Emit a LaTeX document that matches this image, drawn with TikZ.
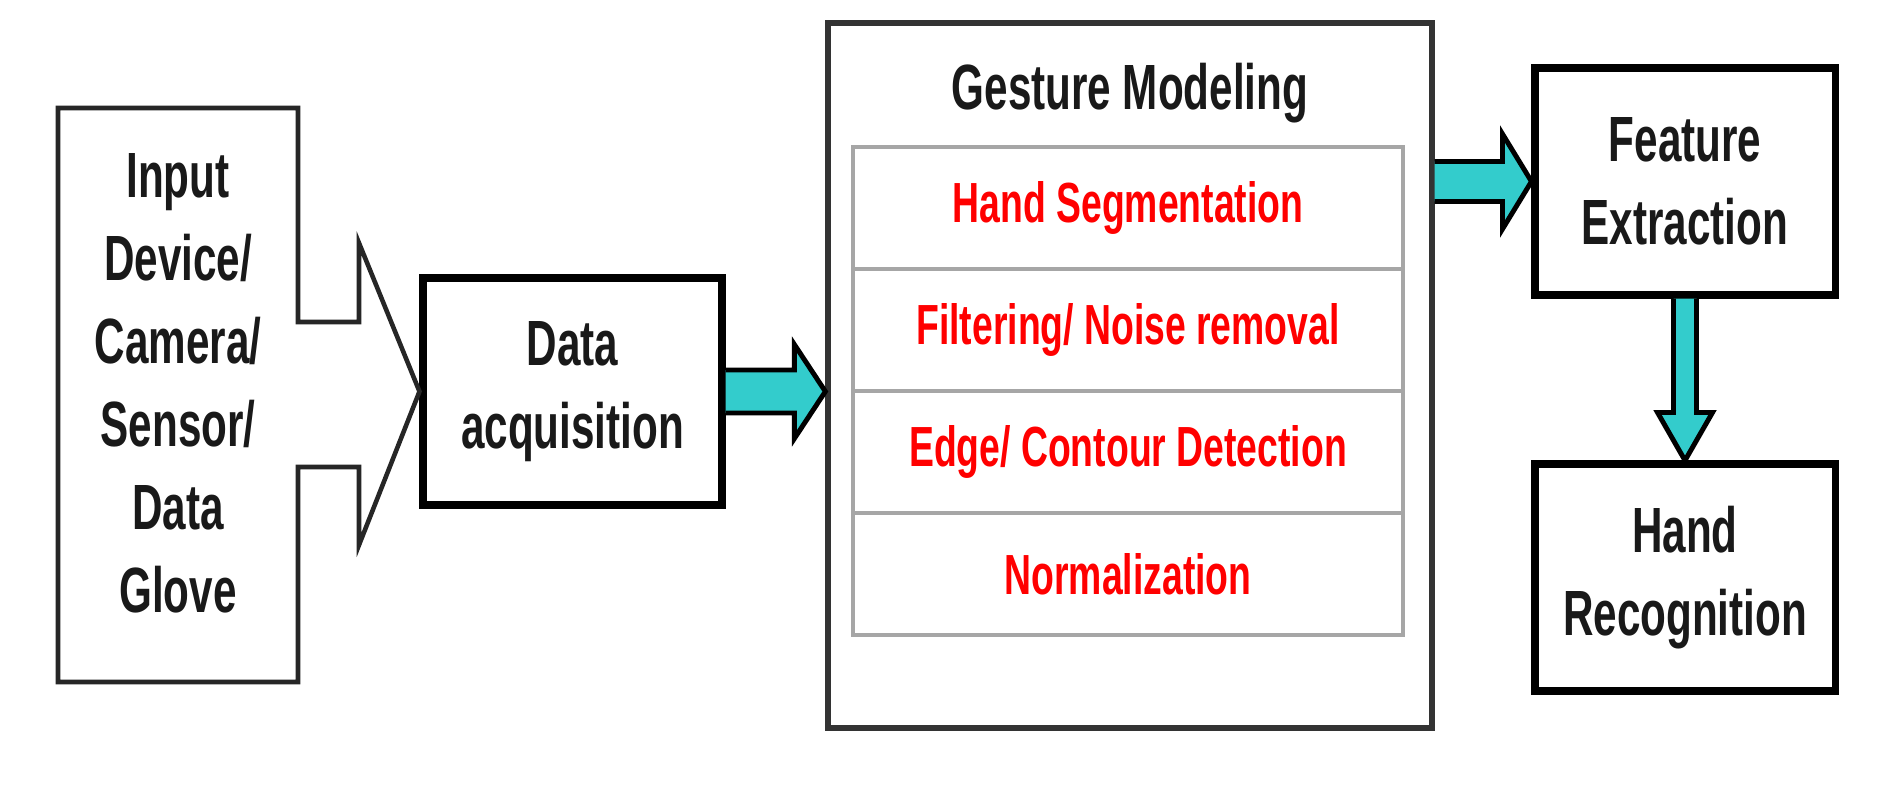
\documentclass[tikz,border=0pt]{standalone}
\usepackage{fontspec}
\setmainfont[FakeStretch=0.66]{Liberation Sans}
\usetikzlibrary{calc}

\definecolor{flowcyan}{RGB}{51,204,204}
\newcommand{\boxtext}{\fontsize{18.2pt}{23.6pt}\selectfont\bfseries}
\newcommand{\steptext}{\fontsize{16.1pt}{19pt}\selectfont\bfseries}

\begin{document}
\begin{tikzpicture}[
  blk/.style={draw=black, line width=2pt, minimum width=3cm, minimum height=2.27cm, align=center, text=black!90, font=\boxtext},
  row/.style={draw=black!35, line width=1pt, minimum width=5.5cm, minimum height=1.22cm, text=red, font=\steptext},
  flow/.style={fill=flowcyan, draw=black, line width=1.4pt, line join=miter}
]
\useasboundingbox (0,0) rectangle (18.87,7.96);

% input device with its outline arrow
\node[minimum width=2.4cm, minimum height=5.74cm, outer sep=0pt] (inp) at (1.78,4.01) {};
\node[align=center, text=black!90, font=\boxtext] (inptxt) at ($(inp)+(0,0.12)$) {Input\\Device/\\Camera/\\Sensor/\\Data\\Glove};

\node[blk, minimum width=2.99cm] (acq) at (5.725,4.045) {Data\\acquisition};

\draw [line width=1.3pt, draw=black!85, line join=miter] (inp.north west) -- (inp.north east) -- ($(inp.east)+(0,0.73)$) -- ($(inp.east)+(0.61,0.73)$) -- ($(inp.east)+(0.61,1.52)$) -- (acq.west) -- ($(inp.east)+(0.61,-1.5)$) -- ($(inp.east)+(0.61,-0.72)$) -- ($(inp.east)+(0,-0.72)$) -- (inp.south east) -- (inp.south west) -- cycle;

% gesture modeling
\node[draw=black!80, line width=1.5pt, minimum width=6.04cm, minimum height=7.05cm] (gm) at (11.30,4.205) {};
\node[anchor=base, text=black!90, font=\boxtext] (gmtitle) at (11.30,6.86) {Gesture Modeling};

\node[row] (seg) at (11.28,5.88) {Hand Segmentation};
\node[row] (filt) at (11.28,4.66) {Filtering/ Noise removal};
\node[row] (edge) at (11.28,3.44) {Edge/ Contour Detection};
\node[row] (norm) at (11.28,2.22) {Normalization};

% right column
\node[blk] (feat) at (16.85,6.145) {Feature\\Extraction};
\node[blk] (hand) at (16.85,2.185) {Hand\\Recognition};

%%%%%%%%%%%%%%% cyan arrows
\coordinate (t1) at (gm.west |- acq.east);
\filldraw [flow] ($(acq.east)+(0,0.215)$) -- ($(t1)+(-0.31,0.215)$) -- ($(t1)+(-0.31,0.47)$) -- (t1) -- ($(t1)+(-0.31,-0.47)$) -- ($(t1)+(-0.31,-0.215)$) -- ($(acq.east)+(0,-0.215)$);

\coordinate (s2) at (gm.east |- feat.west);
\filldraw [flow] ($(s2)+(0,0.2)$) -- ($(feat.west)+(-0.29,0.2)$) -- ($(feat.west)+(-0.29,0.475)$) -- (feat.west) -- ($(feat.west)+(-0.29,-0.475)$) -- ($(feat.west)+(-0.29,-0.2)$) -- ($(s2)+(0,-0.2)$);

\filldraw [flow] ($(feat.south)+(-0.115,0)$) -- ($(hand.north)+(-0.115,0.48)$) -- ($(hand.north)+(-0.275,0.48)$) -- (hand.north) -- ($(hand.north)+(0.275,0.48)$) -- ($(hand.north)+(0.115,0.48)$) -- ($(feat.south)+(0.115,0)$);

\end{tikzpicture}
\end{document}
